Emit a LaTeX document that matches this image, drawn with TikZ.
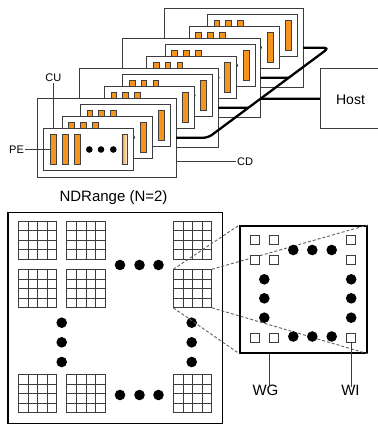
\documentclass[tikz,border=0pt]{standalone}
\usepackage{fontspec}
\setmainfont{Liberation Sans}
\usetikzlibrary{calc}
\definecolor{peorange}{RGB}{247,148,30}
\definecolor{linegray}{RGB}{60,60,60}
\definecolor{dashgray}{RGB}{95,95,95}
\begin{document}
\begin{tikzpicture}[x=1pt,y=-1pt,
  cdbox/.style={draw=linegray,line width=0.9pt,fill=white,minimum width=138.7pt,minimum height=79pt,inner sep=0pt,outer sep=0pt,anchor=north west},
  cardbox/.style={draw=linegray,line width=0.9pt,fill=white,minimum width=90pt,minimum height=42.3pt,inner sep=0pt,outer sep=0pt,anchor=north west},
  pebar/.style={draw=black!75,line width=0.6pt,fill=peorange},
  fadebar/.style={draw=black!75,line width=0.6pt,left color=peorange,right color=white},
  bus/.style={line width=2.3pt,rounded corners=5pt},
  thinline/.style={draw=linegray,line width=0.8pt},
  smalllabel/.style={font=\fontsize{11}{13}\selectfont,inner sep=0pt},
  biglabel/.style={font=\fontsize{15}{17}\selectfont,inner sep=0pt},
  hostlabel/.style={font=\fontsize{14}{16}\selectfont,inner sep=0pt},
  gridbox/.style={draw=linegray,line width=0.8pt,minimum size=38.5pt,inner sep=0pt,outer sep=0pt,anchor=north west},
  gridline/.style={draw=linegray,line width=0.8pt},
  wisq/.style={draw=linegray,line width=0.8pt,fill=white,minimum size=9pt,inner sep=0pt,outer sep=0pt,anchor=north west},
  zoomline/.style={draw=dashgray,line width=0.9pt,dash pattern=on 3pt off 2pt},
]
\useasboundingbox (0,0) rectangle (378,424);

% ---------- compute devices with compute units ----------
\foreach \i/\cx/\cy in {1/164.3/8.3, 2/122/38.3, 3/79.7/68.3, 4/37.3/98.3} {
  \node[cdbox] (cd\i) at (\cx,\cy) {};
  \foreach \j/\ox/\oy in {3/43/6, 2/24.7/18, 1/6.5/30} {
    \node[cardbox] (cu\i\j) at (\cx+\ox,\cy+\oy) {};
    \begin{scope}[shift={(cu\i\j.north west)}]
      \foreach \bx in {6.5,18.3,30.3}
        \draw[pebar] (\bx,6) rectangle ++(5.7,30.3);
      \foreach \dx in {45.5,57.2,69.5}
        \fill (\dx,21.2) circle (3.3pt);
      \def\lastbarstyle{pebar}
      \ifnum\i=4 \ifnum\j=1 \def\lastbarstyle{fadebar}\fi\fi
      \draw[\lastbarstyle] (78,6) rectangle ++(5.8,30.3);
      \coordinate (pe\i\j) at (6.5,21.2);
    \end{scope}
  }
}

% ---------- host and bus ----------
\node[draw=linegray,line width=0.9pt,minimum width=70pt,minimum height=60pt,inner sep=0pt,anchor=north west] (host) at (320,68.3) {};
\node[hostlabel] (hosttext) at (350.5,99.5) {Host};

\coordinate (tr) at ([xshift=26pt]cd1.east);
\coordinate (bl) at ([xshift=32pt]cd4.east);
\coordinate (far2) at ([xshift=80pt]cd2.east);
\coordinate (far3) at ([xshift=80pt]cd3.east);
\coordinate (farh) at ([xshift=-100pt]host.west);
\draw[bus] (cd1.east) -- (tr) -- (bl) -- (cd4.east);
\draw[bus] (cd2.east) -- (intersection of cd2.east--far2 and tr--bl);
\draw[bus] (cd3.east) -- (intersection of cd3.east--far3 and tr--bl);
\draw[bus] (intersection of host.west--farh and tr--bl) -- (host.west);

% ---------- labels top ----------
\node[smalllabel] (culbl) at (53.3,77.5) {CU};
\draw[thinline] ([yshift=-1.5pt]culbl.south) -- (culbl.south |- cu41.north);
\node[smalllabel] (pelbl) at (16.5,149.5) {PE};
\draw[thinline] ([xshift=1pt]pelbl.east) -- (pe41);
\node[smalllabel,anchor=west] (cdlbl) at (237,161.7) {CD};
\draw[thinline] (cd4.east |- cdlbl.west) -- ([xshift=-1.5pt]cdlbl.west);

% ---------- NDRange ----------
\node[biglabel] (ndr) at (113.5,197.5) {NDRange (N=2)};
\node[draw=black,line width=1.3pt,minimum width=214.4pt,minimum height=211pt,inner sep=0pt,anchor=north west] (ndbox) at (7.3,211.7) {};
\foreach \r/\gy in {1/221,2/269.3,3/374.3} {
  \foreach \c/\gx in {1/18.3,2/66.7,3/173.3} {
    \node[gridbox] (g\r\c) at (\gx,\gy) {};
    \foreach \k in {1,2,3} {
      \draw[gridline] ([xshift=\k*9.625pt]g\r\c.north west) -- ([xshift=\k*9.625pt]g\r\c.south west);
      \draw[gridline] ([yshift=-\k*9.625pt]g\r\c.north west) -- ([yshift=-\k*9.625pt]g\r\c.north east);
    }
  }
}
\foreach \p in {(120,265),(139.5,265),(158.5,265),(120,395),(139.5,395),(158.5,395),
                (61.7,322.7),(61.7,342.3),(61.7,362),(191.7,322.7),(191.7,342.3),(191.7,362)}
  \fill \p circle (5.3pt);

% ---------- zoomed work-group ----------
\node[draw=black,line width=2pt,fill=white,minimum width=126.4pt,minimum height=126.7pt,inner sep=0pt,anchor=north west] (zb) at (239.3,225) {};
\draw[zoomline] (g23.north west) -- (zb.north west);
\draw[zoomline] (g23.north east) -- (zb.north east);
\draw[zoomline] (g23.south west) -- (zb.south west);
\draw[zoomline] (g23.south east) -- (zb.south east);
\foreach \n/\sx/\sy in {a/250/235.7, b/269.3/235.7, c/346.7/235.7,
                        d/250/255, e/269.3/255, f/346.7/255,
                        g/250/333.3, h/269.3/333.3, wi/346.7/333.3}
  \node[wisq] (sq\n) at (\sx,\sy) {};
\foreach \p in {(293.3,250),(312.3,250),(331.7,250),(293.3,336.5),(312.3,336.5),(331.7,336.5),
                (264.3,279.3),(264.3,298.3),(264.3,317.7),(351.2,279.3),(351.2,298.3),(351.2,317.7)}
  \fill \p circle (5.3pt);

\node[biglabel] (wg) at (265.5,390.5) {WG};
\draw[thinline] ([xshift=3.8pt]wg.north |- zb.south) -- ([xshift=3.8pt,yshift=-2pt]wg.north);
\node[biglabel] (wi) at (350.5,390.5) {WI};
\draw[thinline] (sqwi.south) -- ([yshift=-2pt]sqwi.south |- wi.north);
\end{tikzpicture}
\end{document}
